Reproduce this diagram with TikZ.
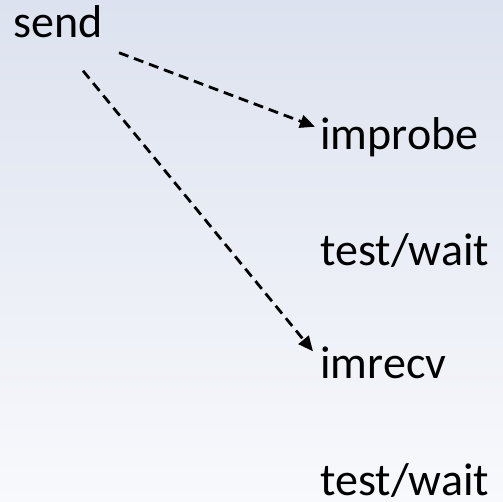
\documentclass[tikz,border=0pt]{standalone}
\usepackage{fontspec}
\setmainfont{Carlito}
\usepackage{tikz}
\usetikzlibrary{arrows.meta, positioning, calc}

\definecolor{bgtop}{RGB}{220,226,239}
\definecolor{bgbot}{RGB}{248,249,252}

\begin{document}
\begin{tikzpicture}[
    x=0.5pt, y=-0.5pt,
    op/.style={anchor=base west, inner sep=0pt,
               font=\fontsize{23}{27}\selectfont},
    arr/.style={-{Triangle[length=7.5pt, width=6.5pt]}, line width=1.4pt,
                dash pattern=on 5pt off 3pt},
  ]
  % background
  \shade[top color=bgtop, bottom color=bgbot] (0,0) rectangle (503,502);
  \useasboundingbox (0,0) rectangle (503,502);

  % calls
  \node[op] (send)    at (13,38)   {send};
  \node[op] (improbe) at (320,150) {improbe};
  \node[op] (test1)   at (320,265) {test/wait};
  \node[op] (imrecv)  at (320,378) {imrecv};
  \node[op] (test2)   at (320,495) {test/wait};

  % messages
  \draw[arr] ($(send.south east)+(16,14)$) -- ($(improbe.west)+(-5,-11)$);
  \draw[arr] ($(send.south)+(25,32)$) -- ($(imrecv.west)+(-7,-11)$);
\end{tikzpicture}
\end{document}
